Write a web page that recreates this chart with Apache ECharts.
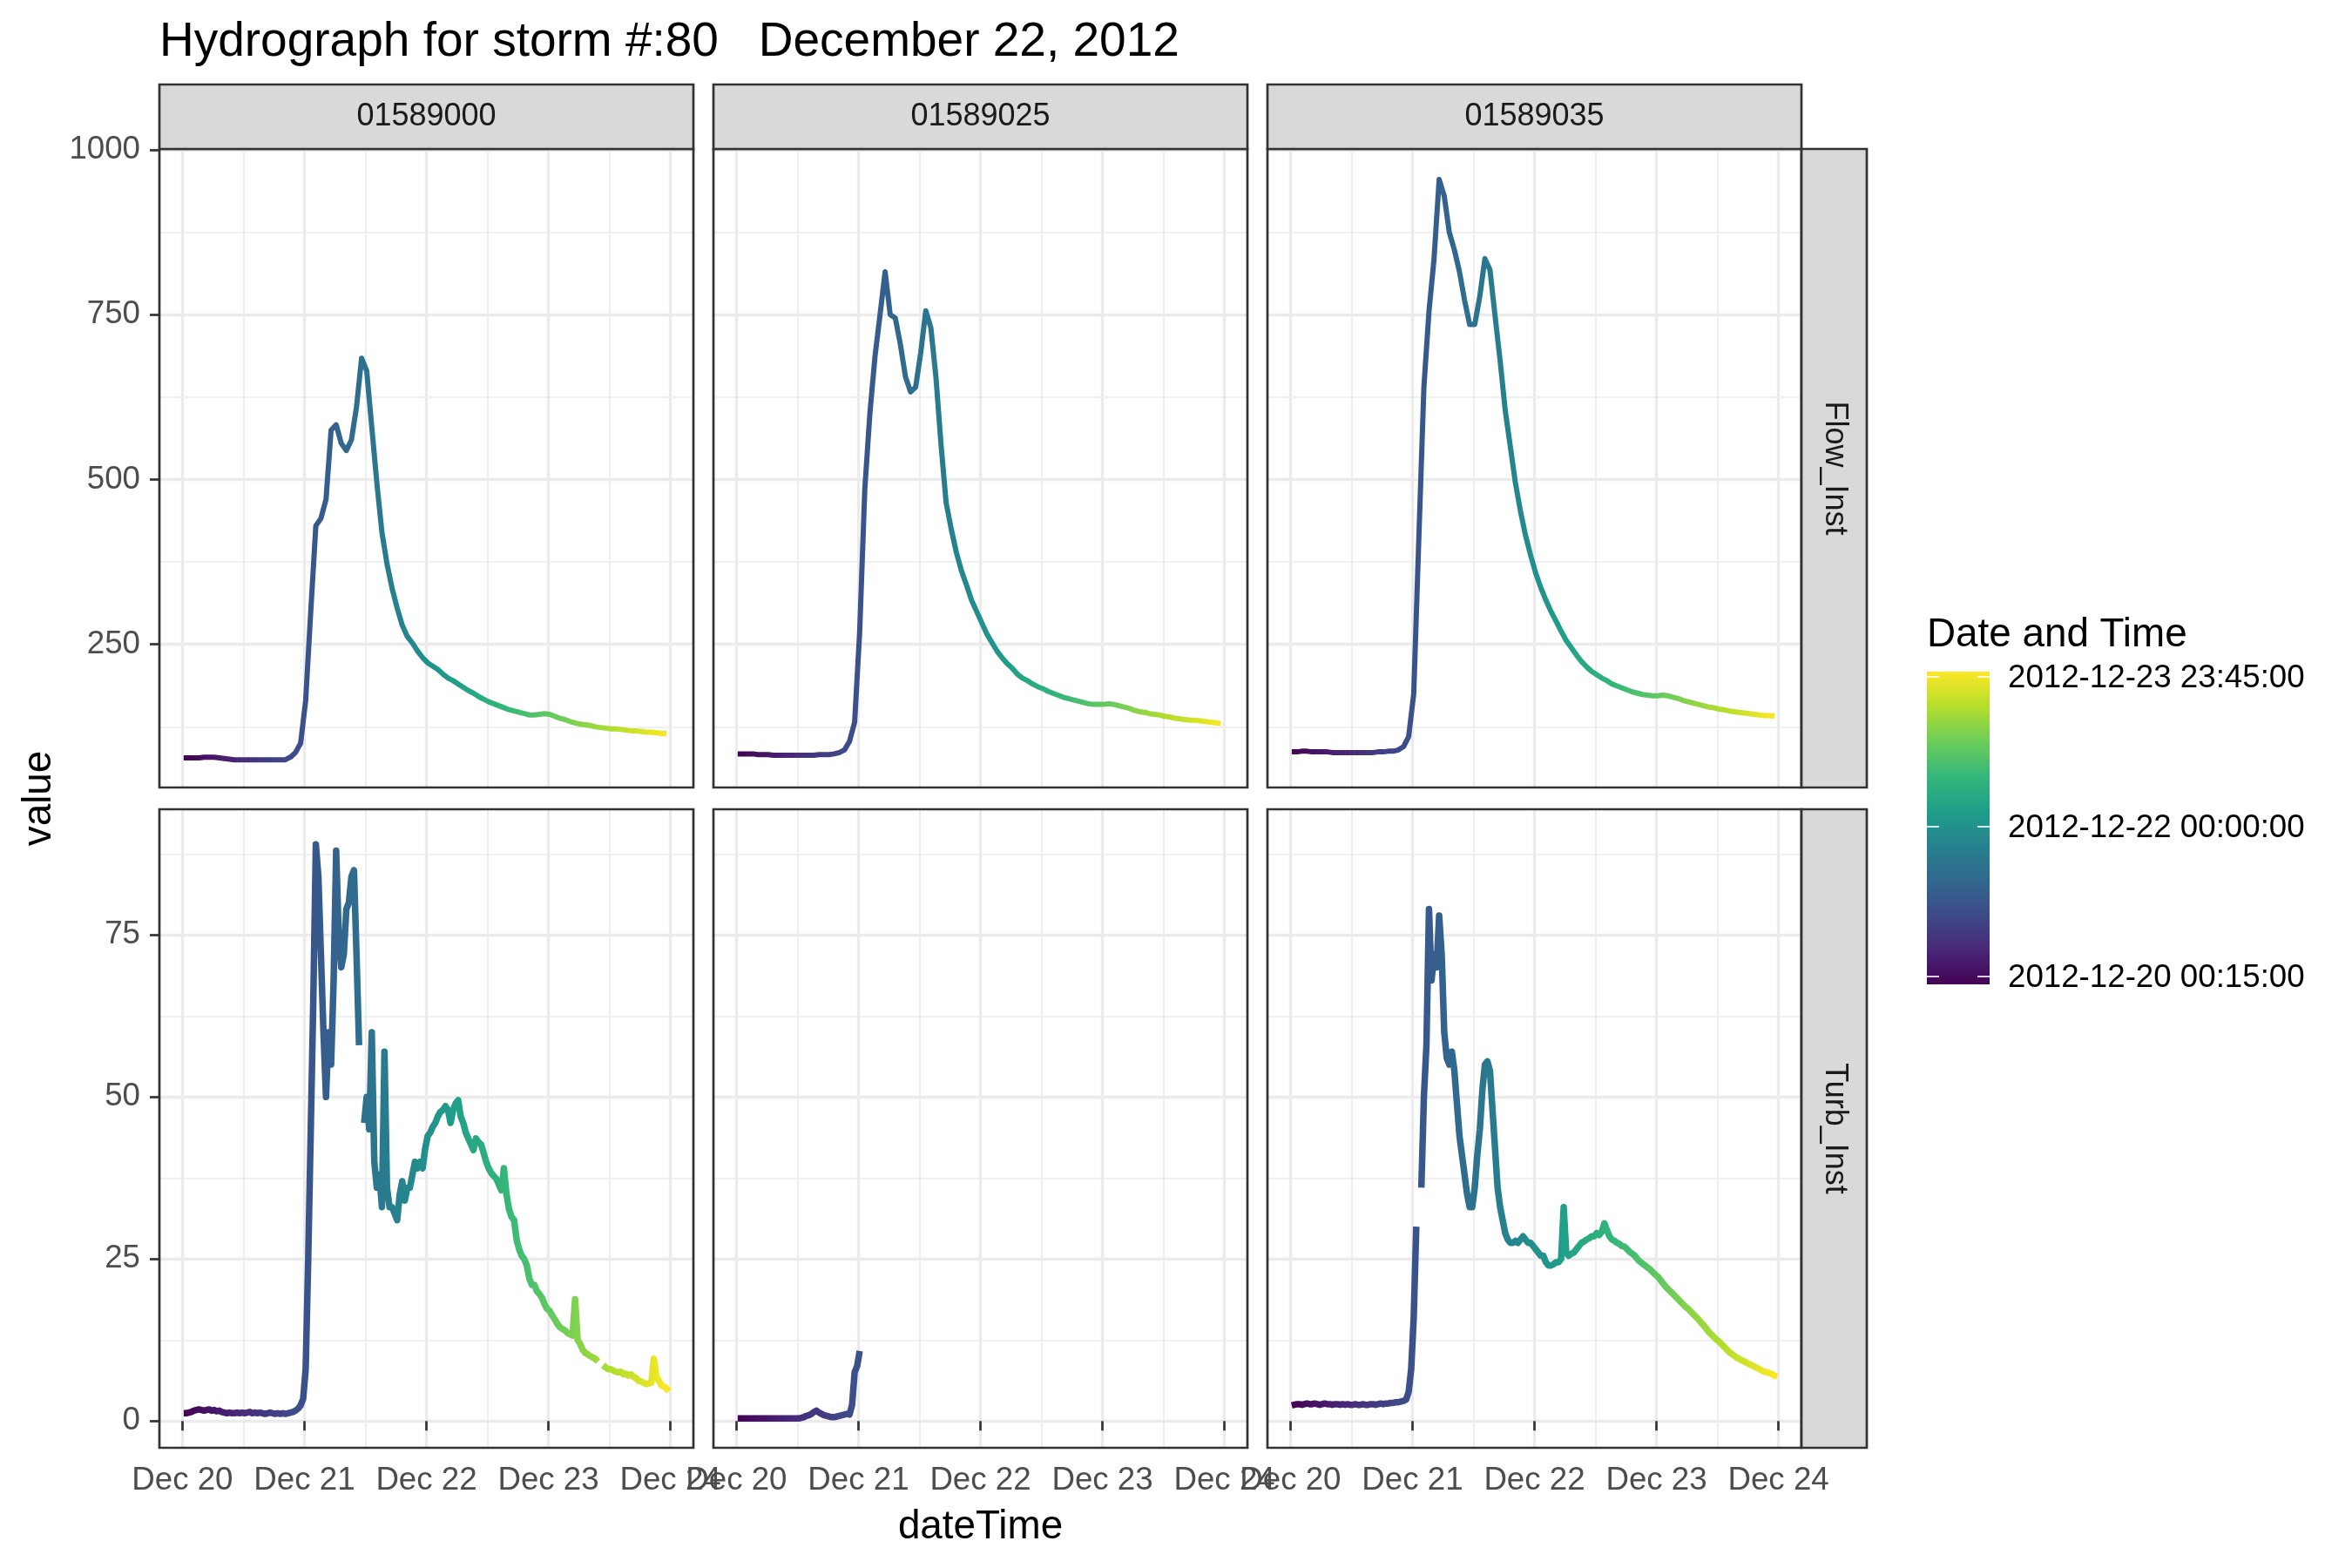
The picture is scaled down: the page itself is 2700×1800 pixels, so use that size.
<!DOCTYPE html>
<html>
<head>
<meta charset="utf-8">
<title>Hydrograph for storm #:80</title>
<script src="https://cdn.jsdelivr.net/npm/echarts@6/dist/echarts.min.js"></script>
<style>
  html, body { margin: 0; padding: 0; background: #ffffff; }
  #chart { width: 2700px; height: 1800px; }
</style>
</head>
<body>
<div id="chart"></div>
<script>
var HOUR = 3600000;
var tStart = Date.UTC(2012, 11, 20, 0, 15);
var tEnd = Date.UTC(2012, 11, 23, 23, 45);

var sites = ['01589000', '01589025', '01589035'];
var params = ['Flow_Inst', 'Turb_Inst'];

var dayTicks = [Date.UTC(2012, 11, 20), Date.UTC(2012, 11, 21), Date.UTC(2012, 11, 22), Date.UTC(2012, 11, 23), Date.UTC(2012, 11, 24)];
var dayLabels = ['Dec 20', 'Dec 21', 'Dec 22', 'Dec 23', 'Dec 24'];
var halfDayTicks = [Date.UTC(2012, 11, 20, 12), Date.UTC(2012, 11, 21, 12), Date.UTC(2012, 11, 22, 12), Date.UTC(2012, 11, 23, 12)];

var yMajor = [[250, 500, 750, 1000], [0, 25, 50, 75]];
var yMinor = [[125, 375, 625, 875], [12.5, 37.5, 62.5, 87.5]];
var yRange = [[33, 1001.3], [-4.13, 94.4]];

var legendTicks = [tStart, Date.UTC(2012, 11, 22), tEnd];
var legendLabels = ['2012-12-20 00:15:00', '2012-12-22 00:00:00', '2012-12-23 23:45:00'];

var viridis = ['#440154', '#482878', '#3E4A89', '#31688E', '#26828E', '#1F9E89', '#35B779', '#6DCD59', '#B4DE2C', '#FDE725'];

// flow, hourly from Dec 20 00:15
var flow01589000 = [
  78, 78, 78, 78, 79, 79, 79, 78, 77, 76, 75, 75,
  75, 75, 75, 75, 75, 75, 75, 75, 75, 79, 86, 100,
  165, 300, 430, 441, 470, 575, 583, 555, 544, 560, 610, 684,
  665, 580, 495, 420, 372, 335, 305, 279, 262, 252, 240, 230,
  222, 217, 212, 205, 199, 195, 190, 185, 180, 176, 171, 167,
  163, 160, 157, 154, 151, 149, 147, 145, 143, 143, 144, 145,
  144, 141, 138, 136, 133, 131, 129, 128, 127, 125, 124, 123,
  122, 122, 121, 120, 119, 119, 118, 117, 117, 116, 115, 115
];
var flow01589025 = [
  84, 84, 84, 84, 83, 83, 83, 82, 82, 82, 82, 82,
  82, 82, 82, 82, 83, 83, 83, 84, 86, 90, 103, 132,
  270, 485, 600, 686, 750, 815, 750, 745, 705, 656, 633, 640,
  692, 756, 730, 655, 553, 465, 425, 390, 362, 340, 317, 300,
  283, 266, 253, 240, 230, 221, 214, 205, 199, 195, 190, 186,
  183, 179, 176, 173, 170, 168, 166, 164, 162, 160, 159, 159,
  159, 160, 159, 157, 155, 153, 150, 148, 147, 145, 144, 143,
  141, 140, 138, 137, 136, 135, 135, 134, 133, 132, 131, 130
];
var flow01589035 = [
  87, 87, 88, 88, 87, 87, 87, 87, 86, 86, 86, 86,
  86, 86, 86, 86, 86, 87, 87, 88, 88, 90, 95, 110,
  175, 410, 640, 755, 835, 955, 930, 875, 848, 815, 772, 735,
  735, 778, 835, 818, 748, 680, 605, 550, 495, 452, 415, 385,
  358, 336, 317, 300, 285, 270, 256, 245, 234, 224, 216, 209,
  204, 199, 195, 190, 187, 184, 181, 178, 176, 174, 173, 172,
  172, 173, 172, 170, 168, 165, 163, 161, 159, 157, 155, 154,
  152, 151, 149, 148, 147, 146, 145, 144, 143, 142, 142, 141
];

// turbidity, half-hourly from Dec 20 00:15
var turb01589000 = [
  1.2, 1.2, 1.3, 1.4, 1.6, 1.7, 1.8, 1.7, 1.6, 1.7, 1.8, 1.6,
  1.7, 1.5, 1.6, 1.4, 1.3, 1.2, 1.3, 1.2, 1.2, 1.3, 1.2, 1.3,
  1.2, 1.3, 1.4, 1.2, 1.3, 1.2, 1.3, 1.2, 1.1, 1.2, 1.3, 1.2,
  1.1, 1.2, 1.1, 1.2, 1.1, 1.2, 1.3, 1.4, 1.6, 1.9, 2.4, 3.4,
  8, 25, 45, 65, 89, 84, 72, 60, 50, 60, 55, 68,
  88, 75, 70, 72, 79, 80, 84, 85, 72, 58, null, 46,
  50, 45, 60, 40, 36, 38, 33, 57, 36, 33, 33, 32,
  31, 35, 37, 34, 36, 36, 38, 40, 39, 40, 39, 42,
  44, 44.5, 45.4, 46, 47, 47.7, 48, 48.6, 48, 46, 48, 49,
  49.5, 47, 46, 44.5, 43.6, 42.7, 41.8, 43.6, 43, 42.7, 41.4, 40,
  39, 38.3, 37.8, 37.4, 36.5, 35.6, 39, 35, 32.7, 31.5, 31, 28,
  26.5, 25.5, 25, 24, 22, 21, 21, 20, 19.6, 19, 18, 17.3,
  17, 16.3, 15.7, 15, 14.5, 14.2, 14, 13.6, 13.4, 13.2, 18.8, 12.5,
  11.9, 11, 10.5, 10.3, 10, 9.8, 9.6, 9.2, null, 8.6, 8.3, 8,
  8, 7.8, 7.6, 7.5, 7.6, 7.2, 7.3, 7, 7.2, 6.8, 6.6, 6.2,
  6.1, 5.9, 5.7, 5.8, 5.9, 9.6, 6.8, 6.2, 5.5, 5.3, 5, 4.6
];
var turb01589025 = [
  0.4, 0.4, 0.4, 0.4, 0.4, 0.4, 0.4, 0.4, 0.4, 0.4, 0.4, 0.4,
  0.4, 0.4, 0.4, 0.4, 0.4, 0.4, 0.4, 0.4, 0.4, 0.4, 0.4, 0.4,
  0.4, 0.5, 0.6, 0.8, 0.9, 1.1, 1.4, 1.6, 1.3, 1.1, 0.9, 0.8,
  0.7, 0.6, 0.6, 0.7, 0.8, 0.9, 1.0, 1.1, 1.0, 2.5, 7.5, 8.5,
  10.8
];
var turb01589035 = [
  2.4, 2.5, 2.6, 2.6, 2.5, 2.6, 2.7, 2.6, 2.6, 2.7, 2.6, 2.5,
  2.6, 2.7, 2.6, 2.6, 2.5, 2.6, 2.6, 2.5, 2.6, 2.5, 2.6, 2.5,
  2.5, 2.6, 2.5, 2.5, 2.6, 2.5, 2.5, 2.6, 2.6, 2.5, 2.6, 2.7,
  2.6, 2.7, 2.7, 2.8, 2.8, 2.9, 2.9, 3.0, 3.1, 3.3, 4.5, 8,
  16, 30, null, 36, 50, 58, 79, 68, 72, 70, 78, 72,
  60, 56, 55, 57, 54, 49, 44, 41, 38, 35, 33, 33,
  36, 41, 45, 51, 55, 55.5, 54, 48, 42, 36, 33, 31,
  29, 28, 27.5, 27.5, 27.8, 27.5, 28, 28.5, 28, 27.5, 27.5, 27,
  26.5, 26, 25.5, 25.5, 24.5, 24, 24, 24.2, 24.5, 24.5, 25, 33,
  26, 25.5, 25.8, 26, 26.5, 27, 27.5, 27.7, 28, 28.2, 28.5, 28.5,
  29, 28.7, 29.2, 30.5, 29.5, 28.5, 28, 27.8, 27.5, 27.3, 27, 26.9,
  26.5, 26.1, 25.8, 25.5, 25, 24.6, 24.3, 24, 23.7, 23.4, 23, 22.6,
  22.3, 21.8, 21.3, 20.8, 20.4, 20, 19.6, 19.2, 18.8, 18.4, 18, 17.6,
  17.3, 16.9, 16.5, 16.1, 15.7, 15.2, 14.8, 14.3, 13.8, 13.4, 13, 12.6,
  12.3, 11.9, 11.5, 11.1, 10.7, 10.4, 10.1, 9.8, 9.6, 9.4, 9.2, 9,
  8.8, 8.6, 8.4, 8.2, 8, 7.8, 7.6, 7.5, 7.4, 7.2, 7.0, 6.9
];

var flowTimes = [];
for (var i = 0; i < flow01589000.length; i++) flowTimes.push(tStart + i * HOUR);
var turbTimes = [];
for (var j = 0; j < turb01589000.length; j++) turbTimes.push(tStart + j * HOUR / 2);

function pairs(times, vals) {
  return vals.map(function (v, k) { return [times[k], v]; });
}

var panelData = [
  [pairs(flowTimes, flow01589000), pairs(flowTimes, flow01589025), pairs(flowTimes, flow01589035)],
  [pairs(turbTimes, turb01589000), pairs(turbTimes, turb01589025), pairs(turbTimes, turb01589035)]
];

// layout (px)
var FONT = '"Liberation Sans", Arial, Helvetica, sans-serif';
var colLeft = [183, 819, 1455];
var rowTop = [171, 929];
var panelW = 613, panelH = 733;
var stripTop = 97, stripH = 74;
var stripRightX = colLeft[2] + panelW, stripW = 75;
var pad = (tEnd - tStart) * 0.05;
var xMin = tStart - pad, xMax = tEnd + pad;

function dayLabel(v) {
  var k = dayTicks.indexOf(v);
  return k >= 0 ? dayLabels[k] : '';
}

var grids = [], xAxes = [], yAxes = [], series = [], graphics = [];

for (var r = 0; r < 2; r++) {
  for (var c = 0; c < 3; c++) {
    var p = r * 3 + c;
    grids.push({ left: colLeft[c], top: rowTop[r], width: panelW, height: panelH, containLabel: false });

    // x is milliseconds on a plain value axis, ticks placed at midnights
    xAxes.push({
      type: 'value', gridIndex: p, min: xMin, max: xMax, position: 'bottom',
      axisLine: { show: false },
      axisTick: { show: r === 1, customValues: dayTicks, length: 11, lineStyle: { color: '#333333', width: 2.7 } },
      axisLabel: {
        show: r === 1, customValues: dayTicks, margin: 19,
        fontFamily: FONT, fontSize: 36.7, color: '#4D4D4D',
        formatter: dayLabel
      },
      splitLine: { show: true, lineStyle: { color: '#EBEBEB', width: 3.3 } }
    });
    xAxes.push({
      type: 'value', gridIndex: p, min: xMin, max: xMax, position: 'top',
      axisLine: { show: false },
      axisTick: { show: false, customValues: halfDayTicks },
      axisLabel: { show: false, customValues: halfDayTicks },
      splitLine: { show: true, lineStyle: { color: '#EBEBEB', width: 1.7 } }
    });

    yAxes.push({
      type: 'value', gridIndex: p, min: yRange[r][0], max: yRange[r][1], position: 'left',
      axisLine: { show: false },
      axisTick: { show: c === 0, customValues: yMajor[r], length: 11, lineStyle: { color: '#333333', width: 2.7 } },
      axisLabel: {
        show: c === 0, customValues: yMajor[r], margin: 22,
        fontFamily: FONT, fontSize: 36.7, color: '#4D4D4D',
        formatter: function (v) { return String(v); }
      },
      splitLine: { show: true, lineStyle: { color: '#EBEBEB', width: 3.3 } }
    });
    yAxes.push({
      type: 'value', gridIndex: p, min: yRange[r][0], max: yRange[r][1], position: 'right',
      axisLine: { show: false },
      axisTick: { show: false, customValues: yMinor[r] },
      axisLabel: { show: false, customValues: yMinor[r] },
      splitLine: { show: true, lineStyle: { color: '#EBEBEB', width: 1.7 } }
    });

    series.push({
      name: sites[c] + ' ' + params[r],
      type: 'line',
      xAxisIndex: 2 * p,
      yAxisIndex: 2 * p,
      data: panelData[r][c],
      showSymbol: false,
      symbol: 'none',
      connectNulls: false,
      silent: true,
      lineStyle: { width: r === 0 ? 6 : 7.5, join: 'round', cap: 'butt' },
      z: 3
    });

    // panel border
    graphics.push({
      type: 'rect', silent: true, z: 100,
      shape: { x: colLeft[c], y: rowTop[r], width: panelW, height: panelH },
      style: { fill: 'none', stroke: '#333333', lineWidth: 2.7 }
    });
  }
}

// top strips
sites.forEach(function (s, c) {
  graphics.push({
    type: 'rect', silent: true, z: 100,
    shape: { x: colLeft[c], y: stripTop, width: panelW, height: stripH },
    style: { fill: '#D9D9D9', stroke: '#333333', lineWidth: 2.7 }
  });
  graphics.push({
    type: 'text', silent: true, z: 101,
    style: {
      text: s, x: colLeft[c] + panelW / 2, y: stripTop + stripH / 2,
      font: '36px ' + FONT, fill: '#1A1A1A',
      align: 'center', verticalAlign: 'middle', textAlign: 'center', textVerticalAlign: 'middle'
    }
  });
});

// right strips
params.forEach(function (pName, r) {
  graphics.push({
    type: 'rect', silent: true, z: 100,
    shape: { x: stripRightX, y: rowTop[r], width: stripW, height: panelH },
    style: { fill: '#D9D9D9', stroke: '#333333', lineWidth: 2.7 }
  });
  graphics.push({
    type: 'text', silent: true, z: 101,
    x: stripRightX + stripW / 2, y: rowTop[r] + panelH / 2, rotation: -Math.PI / 2,
    style: {
      text: pName, x: 0, y: 0,
      font: '36px ' + FONT, fill: '#1A1A1A',
      align: 'center', verticalAlign: 'middle', textAlign: 'center', textVerticalAlign: 'middle'
    }
  });
});

// title and axis titles
graphics.push({
  type: 'text', silent: true, z: 101,
  style: {
    text: 'Hydrograph for storm #:80   December 22, 2012', x: 183, y: 49,
    font: '55px ' + FONT, fill: '#000000',
    align: 'left', verticalAlign: 'middle', textAlign: 'left', textVerticalAlign: 'middle'
  }
});
graphics.push({
  type: 'text', silent: true, z: 101,
  style: {
    text: 'dateTime', x: (colLeft[0] + colLeft[2] + panelW) / 2, y: 1753,
    font: '45.8px ' + FONT, fill: '#000000',
    align: 'center', verticalAlign: 'middle', textAlign: 'center', textVerticalAlign: 'middle'
  }
});
graphics.push({
  type: 'text', silent: true, z: 101,
  x: 45, y: (rowTop[0] + rowTop[1] + panelH) / 2, rotation: Math.PI / 2,
  style: {
    text: 'value', x: 0, y: 0,
    font: '45.8px ' + FONT, fill: '#000000',
    align: 'center', verticalAlign: 'middle', textAlign: 'center', textVerticalAlign: 'middle'
  }
});

// colour bar legend
var barX = 2212, barW = 72, barTop = 771, barBottom = 1130;
var tickTopY = 777, tickBottomY = 1121;
graphics.push({
  type: 'text', silent: true, z: 101,
  style: {
    text: 'Date and Time', x: barX, y: 729,
    font: '45.8px ' + FONT, fill: '#000000',
    align: 'left', verticalAlign: 'middle', textAlign: 'left', textVerticalAlign: 'middle'
  }
});
graphics.push({
  type: 'rect', silent: true, z: 100,
  shape: { x: barX, y: barTop, width: barW, height: barBottom - barTop },
  style: {
    fill: new echarts.graphic.LinearGradient(0, 1, 0, 0, viridis.map(function (col, k) {
      return { offset: k / (viridis.length - 1), color: col };
    }))
  }
});
legendTicks.forEach(function (t, k) {
  var yy = tickBottomY - (t - tStart) / (tEnd - tStart) * (tickBottomY - tickTopY);
  graphics.push({
    type: 'line', silent: true, z: 101,
    shape: { x1: barX, y1: yy, x2: barX + 14, y2: yy },
    style: { stroke: '#FFFFFF', lineWidth: 1.6 }
  });
  graphics.push({
    type: 'line', silent: true, z: 101,
    shape: { x1: barX + barW - 14, y1: yy, x2: barX + barW, y2: yy },
    style: { stroke: '#FFFFFF', lineWidth: 1.6 }
  });
  graphics.push({
    type: 'text', silent: true, z: 101,
    style: {
      text: legendLabels[k], x: 2305, y: yy + 2,
      font: '36.7px ' + FONT, fill: '#000000',
      align: 'left', verticalAlign: 'middle', textAlign: 'left', textVerticalAlign: 'middle'
    }
  });
});

var myChart = echarts.init(document.getElementById('chart'), null, { renderer: 'canvas' });
var option = {
  backgroundColor: '#ffffff',
  animation: false,
  grid: grids,
  xAxis: xAxes,
  yAxis: yAxes,
  visualMap: {
    type: 'continuous',
    show: false,
    dimension: 0,
    min: tStart,
    max: tEnd,
    seriesIndex: [0, 1, 2, 3, 4, 5],
    inRange: { color: viridis }
  },
  series: series,
  graphic: graphics
};
myChart.setOption(option);
</script>
</body>
</html>
